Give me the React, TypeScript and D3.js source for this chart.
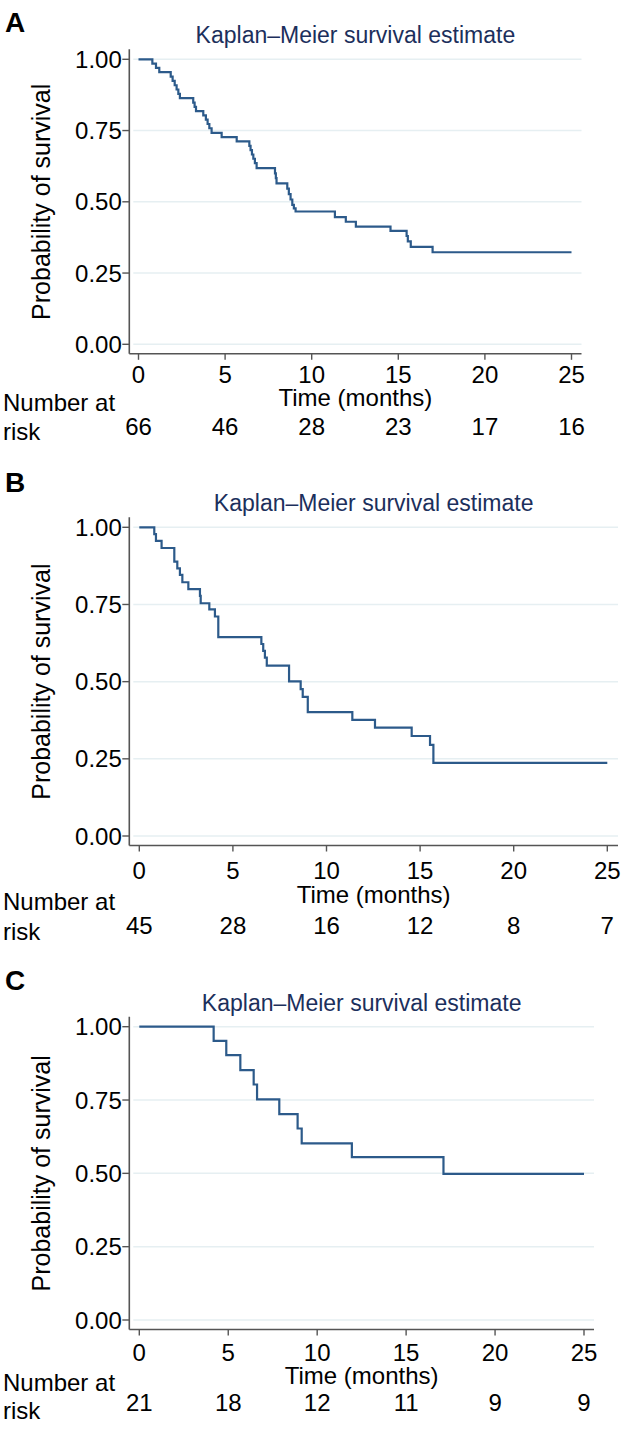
import React from "react";
import * as d3 from "d3";

// ---------- data ----------
const xTicks = [0, 5, 10, 15, 20, 25];
const yTicks = [0, 0.25, 0.5, 0.75, 1];

const timesA = [0, 0.8, 1.01, 1.2, 1.86, 1.97, 2.09, 2.2, 2.3, 2.39, 3.16, 3.24, 3.32, 3.74, 3.89, 3.99, 4.09, 4.22, 4.8, 5.67, 6.4, 6.47, 6.55, 6.63, 6.72, 6.82, 7.88, 7.93, 7.97, 8.59, 8.68, 8.78, 8.88, 8.97, 9.07, 11.34, 11.97, 12.55, 14.55, 15.48, 15.55, 15.72, 16.98, 25];
const survA = [1, 0.985, 0.97, 0.955, 0.939, 0.924, 0.909, 0.894, 0.879, 0.864, 0.848, 0.833, 0.818, 0.803, 0.788, 0.773, 0.758, 0.742, 0.727, 0.712, 0.696, 0.681, 0.666, 0.651, 0.636, 0.618, 0.6, 0.583, 0.565, 0.546, 0.527, 0.508, 0.489, 0.477, 0.466, 0.446, 0.43, 0.413, 0.398, 0.38, 0.361, 0.342, 0.323, 0.323];
const riskA = [66, 46, 28, 23, 17, 16];

const timesB = [0, 0.8, 0.89, 1.19, 1.87, 2.03, 2.17, 2.3, 2.62, 3.24, 3.28, 3.74, 4.04, 4.22, 6.52, 6.62, 6.71, 6.81, 8.0, 8.62, 8.73, 9.0, 11.38, 12.59, 14.55, 15.53, 15.71, 25];
const survB = [1, 0.978, 0.956, 0.933, 0.889, 0.867, 0.846, 0.822, 0.8, 0.778, 0.754, 0.734, 0.711, 0.644, 0.622, 0.6, 0.578, 0.552, 0.501, 0.476, 0.451, 0.401, 0.376, 0.351, 0.324, 0.295, 0.237, 0.237];
const riskB = [45, 28, 16, 12, 8, 7];

const timesC = [0, 4.18, 4.89, 5.68, 6.43, 6.62, 7.87, 8.9, 9.13, 11.95, 17.1, 25];
const survC = [1, 0.952, 0.903, 0.852, 0.803, 0.752, 0.702, 0.653, 0.602, 0.555, 0.498, 0.498];
const riskC = [21, 18, 12, 11, 9, 9];

const panelLetters = ["A", "B", "C"];
const titleText = "Kaplan\u2013Meier survival estimate";

// ---------- layout ----------
const W = 630;
const H = 1440;
const FONT = "Liberation Sans, Arial, Helvetica, sans-serif";
const FS = 24;

const layouts = [
  { y1: 59.3, y0: 344.3, x0: 138.5, x25: 571.5, axisEnd: 581.5, letterY: 32, off: { tick: 21, time: 44, num: 49, risk: 78, vals: 73 } },
  { y1: 527.3, y0: 836, x0: 139.3, x25: 607.3, axisEnd: 618, letterY: 491.5, off: { tick: 25, time: 49, num: 56, risk: 86, vals: 80 } },
  { y1: 1026.7, y0: 1320, x0: 139.3, x25: 584, axisEnd: 594, letterY: 990, off: { tick: 23, time: 46, num: 53, risk: 81, vals: 73 } },
];

const series = [
  { t: timesA, s: survA, risk: riskA },
  { t: timesB, s: survB, risk: riskB },
  { t: timesC, s: survC, risk: riskC },
];

const axisX = 129.3;
const curveColor = "#2c5a8a";
const gridColor = "#e6eff2";
const axisColor = "#555555";
const titleColor = "#1c2f5c";

function Panel({ idx }: { idx: number }) {
  const L = layouts[idx];
  const S = series[idx];
  const x = d3.scaleLinear().domain([0, 25]).range([L.x0, L.x25]);
  const y = d3.scaleLinear().domain([0, 1]).range([L.y0, L.y1]);
  const axisY = L.y0 + 9.5;
  const pts = S.t.map((t, i) => [t, S.s[i]] as [number, number]);
  const line = d3
    .line<[number, number]>()
    .x((d) => x(d[0]))
    .y((d) => y(d[1]))
    .curve(d3.curveStepAfter);
  const midY = (L.y0 + L.y1) / 2;
  const base = 8.5; // center -> baseline for digits
  return (
    <g>
      <text x={5} y={L.letterY} fontFamily={FONT} fontWeight="bold" fontSize={28} fill="#000">
        {panelLetters[idx]}
      </text>
      <text
        x={(axisX + L.axisEnd) / 2}
        y={L.y1 - 16}
        textAnchor="middle"
        fontFamily={FONT}
        fontSize={23}
        fill={titleColor}
      >
        {titleText}
      </text>
      {/* grid */}
      {yTicks.map((v) => (
        <line key={"g" + v} x1={axisX + 4} x2={L.axisEnd} y1={y(v)} y2={y(v)} stroke={gridColor} strokeWidth={1.5} />
      ))}
      {/* curve */}
      <path d={line(pts) || ""} fill="none" stroke={curveColor} strokeWidth={2.2} />
      {/* y axis */}
      <line x1={axisX} x2={axisX} y1={L.y1 - 10} y2={axisY} stroke={axisColor} strokeWidth={1.6} />
      {yTicks.map((v) => (
        <g key={"yt" + v}>
          <line x1={axisX - 7} x2={axisX} y1={y(v)} y2={y(v)} stroke={axisColor} strokeWidth={1.4} />
          <text x={axisX - 7.5} y={y(v) + base} textAnchor="end" fontFamily={FONT} fontSize={FS} fill="#000">
            {d3.format(".2f")(v)}
          </text>
        </g>
      ))}
      <text
        transform={`translate(50,${midY}) rotate(-90)`}
        textAnchor="middle"
        fontFamily={FONT}
        fontSize={25}
        fill="#000"
      >
        Probability of survival
      </text>
      {/* x axis */}
      <line x1={axisX} x2={L.axisEnd} y1={axisY} y2={axisY} stroke={axisColor} strokeWidth={1.6} />
      {xTicks.map((v, i) => (
        <g key={"xt" + v}>
          <line x1={x(v)} x2={x(v)} y1={axisY} y2={axisY + 6} stroke={axisColor} strokeWidth={1.4} />
          <text x={x(v)} y={axisY + L.off.tick + base} textAnchor="middle" fontFamily={FONT} fontSize={FS} fill="#000">
            {v}
          </text>
          <text x={x(v)} y={axisY + L.off.vals + base} textAnchor="middle" fontFamily={FONT} fontSize={FS} fill="#000">
            {S.risk[i]}
          </text>
        </g>
      ))}
      <text
        x={(axisX + L.axisEnd) / 2}
        y={axisY + L.off.time + base}
        textAnchor="middle"
        fontFamily={FONT}
        fontSize={FS}
        fill="#000"
      >
        Time (months)
      </text>
      <text x={3} y={axisY + L.off.num + base} fontFamily={FONT} fontSize={FS} fill="#000">
        Number at
      </text>
      <text x={3} y={axisY + L.off.risk + base} fontFamily={FONT} fontSize={FS} fill="#000">
        risk
      </text>
    </g>
  );
}

export default function App() {
  return (
    <svg
      width={W}
      height={H}
      viewBox={`0 0 ${W} ${H}`}
      style={{ position: "absolute", left: 0, top: 0, background: "#fff" }}
    >
      <rect width={W} height={H} fill="#fff" />
      {[0, 1, 2].map((i) => (
        <Panel key={i} idx={i} />
      ))}
    </svg>
  );
}
